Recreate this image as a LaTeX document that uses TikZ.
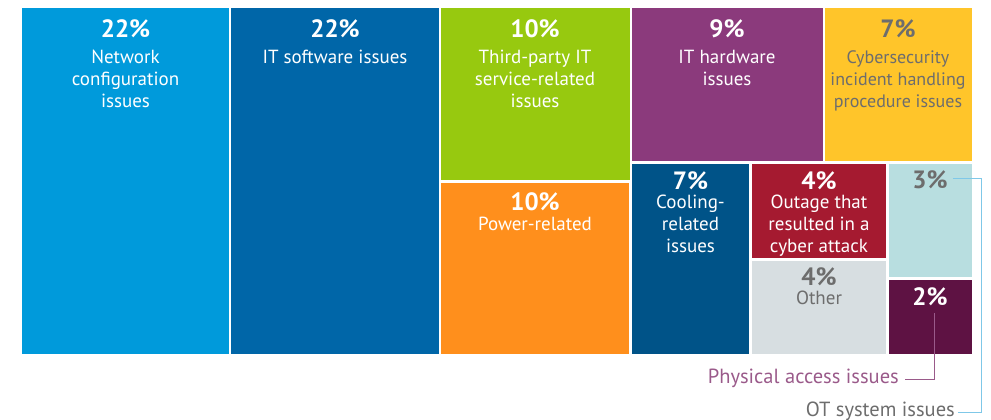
\documentclass[tikz,border=0pt]{standalone}
\usepackage{fontspec}
\setmainfont{PT Sans}
\definecolor{cNet}{HTML}{009ADB}
\definecolor{cSoft}{HTML}{0066A8}
\definecolor{cThird}{HTML}{97C90F}
\definecolor{cHard}{HTML}{8B3A7C}
\definecolor{cCyber}{HTML}{FFC52A}
\definecolor{cPower}{HTML}{FF8F1C}
\definecolor{cCool}{HTML}{005388}
\definecolor{cOutage}{HTML}{A51A30}
\definecolor{cOT}{HTML}{B8DEE0}
\definecolor{cOther}{HTML}{D7DEE1}
\definecolor{cPhys}{HTML}{5E1243}
\definecolor{cGrayText}{HTML}{6D6D6D}
\definecolor{cPhysText}{HTML}{9A5A8A}
\definecolor{cOTLine}{HTML}{7FC8E8}
\tikzset{
  blk/.style={anchor=north west, inner sep=0pt, outer sep=0pt, draw=none},
  pct/.style={font=\fontsize{25}{28}\selectfont\bfseries, text=white, inner sep=0pt, text depth=0pt},
  lbl/.style={font=\fontsize{19}{22}\selectfont, text=white, align=center, inner sep=0pt, anchor=north},
  callout/.style={font=\fontsize{20.5}{24}\selectfont, anchor=east, inner sep=0pt},
  leader/.style={line width=0.9pt},
}
\begin{document}
\begin{tikzpicture}[x=1pt,y=-1pt]
\useasboundingbox (0,0) rectangle (991,420);
% blocks
\node[blk, fill=cNet, minimum width=207, minimum height=346] (bNet) at (22,8) {};
\node[blk, fill=cSoft, minimum width=208, minimum height=346] (bSoft) at (231,8) {};
\node[blk, fill=cThird, minimum width=188.5, minimum height=172] (bThird) at (441,8) {};
\node[blk, fill=cHard, minimum width=191, minimum height=152.7] (bHard) at (631.7,8) {};
\node[blk, fill=cCyber, minimum width=146.7, minimum height=152.7] (bCyber) at (825,8) {};
\node[blk, fill=cPower, minimum width=188.3, minimum height=171.6] (bPower) at (440.7,182.7) {};
\node[blk, fill=cCool, minimum width=117.6, minimum height=190.3] (bCool) at (631.7,164) {};
\node[blk, fill=cOutage, minimum width=133.7, minimum height=93.7] (bOut) at (752.3,164) {};
\node[blk, fill=cOther, minimum width=133.7, minimum height=93.6] (bOther) at (752.3,260.7) {};
\node[blk, fill=cOT, minimum width=83, minimum height=112.7] (bOT) at (888.7,164) {};
\node[blk, fill=cPhys, minimum width=83, minimum height=74.3] (bPhys) at (888.7,280) {};
% labels
\node[pct] (p1) at (125.5,29) {22\%};
\node[lbl] (l1) at (125.5,50) {Network\\configuration\\issues};
\node[pct] (p2) at (335,29) {22\%};
\node[lbl] (l2) at (335,50) {IT software issues};
\node[pct] (p3) at (535,29) {10\%};
\node[lbl] (l3) at (535,50) {Third-party IT\\service-related\\issues};
\node[pct] (p4) at (727,29) {9\%};
\node[lbl] (l4) at (727,50) {IT hardware\\issues};
\node[pct, text=cGrayText] (p5) at (898,29) {7\%};
\node[lbl, text=cGrayText, font=\fontsize{18}{22}\selectfont] (l5) at (898,50) {Cybersecurity\\incident handling\\procedure issues};
\node[pct] (p6) at (535,202) {10\%};
\node[lbl] (l6) at (535,216.5) {Power-related};
\node[pct] (p7) at (690.5,181) {7\%};
\node[lbl] (l7) at (690.5,194.5) {Cooling-\\related\\issues};
\node[pct] (p8) at (819,181) {4\%};
\node[lbl] (l8) at (819,194.5) {Outage that\\resulted in a\\cyber attack};
\node[pct, text=cGrayText] (p9) at (819,276.5) {4\%};
\node[lbl, text=cGrayText] (l9) at (819,290.5) {Other};
\node[pct, text=cGrayText] (p10) at (930,179.5) {3\%};
\node[pct] (p11) at (930,297) {2\%};
% callouts
\node[callout, text=cPhysText] (physlab) at (899,378) {Physical access issues};
\node[callout, text=cGrayText] (otlab) at (955,411) {OT system issues};
\coordinate (physcorner) at (934,379);
\coordinate (physstart) at (934,313);
\coordinate (otc1) at (981,178);
\coordinate (otc2) at (981,412);
\draw[leader, draw=cPhysText] (physstart) -- (physcorner) -- ([xshift=6pt]physlab.east |- physcorner);
\draw[leader, draw=cOTLine] ([xshift=5pt]p10.east |- otc1) -- (otc1) -- (otc2) -- ([xshift=3pt]otlab.east |- otc2);
\end{tikzpicture}
\end{document}
